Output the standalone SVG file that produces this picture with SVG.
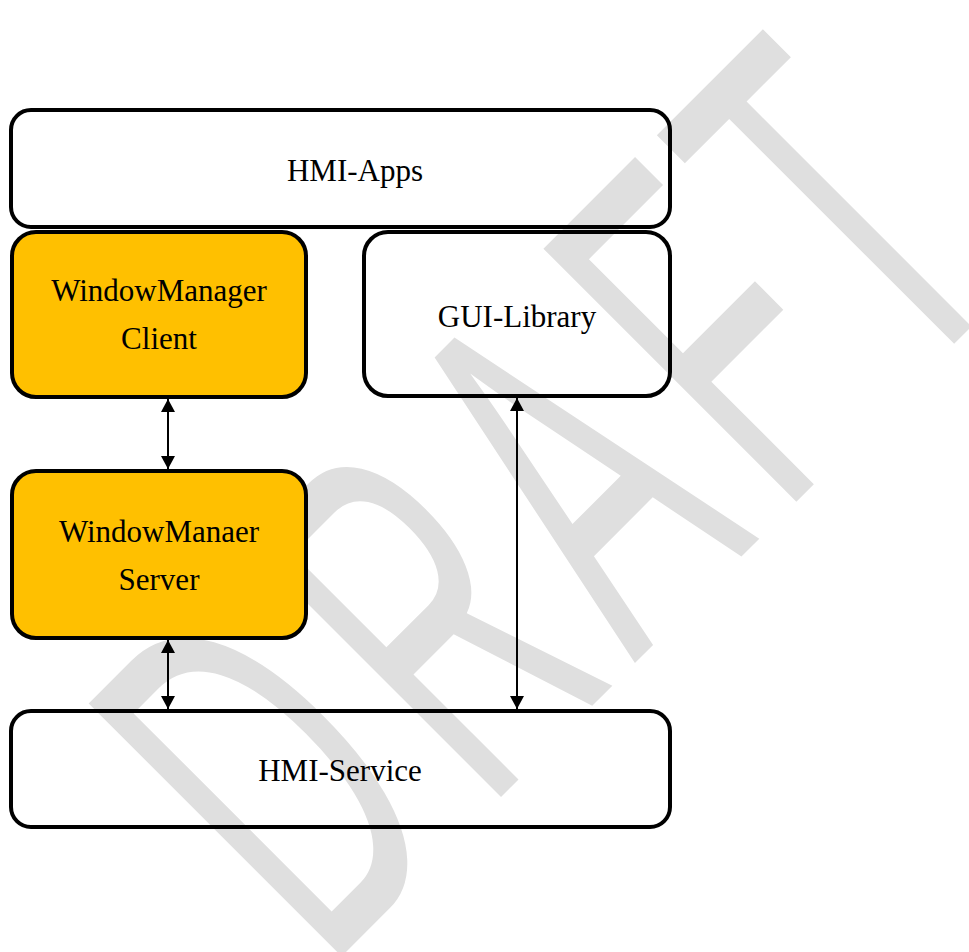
<svg xmlns="http://www.w3.org/2000/svg" width="969" height="952" viewBox="0 0 969 952">
  <style>
    .box { stroke: #000; stroke-width: 4; }
    .plain { fill: none; }
    .hl { fill: #FFC000; }
    .lbl { font-family: "Liberation Serif", "Times New Roman", serif; font-size: 31px; fill: #000; text-anchor: middle; }
    .conn { stroke: #000; stroke-width: 2; fill: none; marker-start: url(#arr); marker-end: url(#arr); }
    .wm { font-family: "Liberation Sans", Arial, sans-serif; font-size: 520px; fill: #dfdfdf; }
  </style>
  <defs>
    <marker id="arr" viewBox="0 0 13 14" refX="13" refY="7" markerWidth="13" markerHeight="14" markerUnits="userSpaceOnUse" orient="auto-start-reverse">
      <path d="M0,0 L13,7 L0,14 z" fill="#000"/>
    </marker>
  </defs>
  <rect width="969" height="952" fill="#fff"/>
  <g id="watermark">
    <text class="wm" transform="translate(649 649) rotate(-45) scale(0.51 1)" x="-895 -453 -40 366 711.6" y="0">DRAFT</text>
  </g>
  <g id="hmi-apps">
    <rect class="box plain" x="11" y="110" width="659" height="117" rx="20"/>
    <text class="lbl" x="355" y="181">HMI-Apps</text>
  </g>
  <g id="wm-client">
    <rect class="box hl" x="12" y="232" width="294" height="165" rx="24"/>
    <text class="lbl" x="159" y="301">WindowManager</text>
    <text class="lbl" x="159" y="349">Client</text>
  </g>
  <g id="gui-library">
    <rect class="box plain" x="364" y="232" width="306" height="164" rx="24"/>
    <text class="lbl" x="517" y="327">GUI-Library</text>
  </g>
  <g id="wm-server">
    <rect class="box hl" x="12" y="471" width="294" height="167" rx="24"/>
    <text class="lbl" x="159" y="542">WindowManaer</text>
    <text class="lbl" x="159" y="590">Server</text>
  </g>
  <g id="hmi-service">
    <rect class="box plain" x="11" y="711" width="659" height="116" rx="20"/>
    <text class="lbl" x="340" y="781">HMI-Service</text>
  </g>
  <g id="connectors">
    <line class="conn" x1="168" y1="399" x2="168" y2="469"/>
    <line class="conn" x1="168" y1="640" x2="168" y2="709"/>
    <line class="conn" x1="517" y1="398" x2="517" y2="709"/>
  </g>
</svg>
